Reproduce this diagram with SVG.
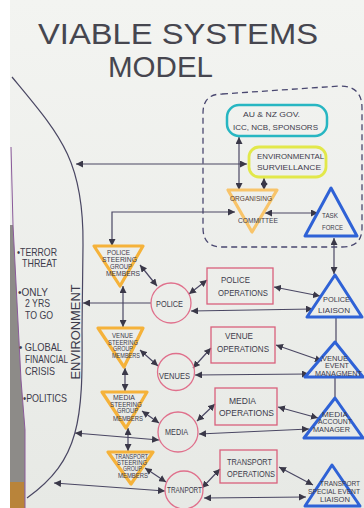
<svg xmlns="http://www.w3.org/2000/svg" width="364" height="508" viewBox="0 0 364 508">
<defs>
<linearGradient id="paper" x1="0" y1="0" x2="0" y2="1">
<stop offset="0" stop-color="#f3f4f1"/>
<stop offset="1" stop-color="#e7e9e5"/>
</linearGradient>
<marker id="ah" viewBox="0 0 7 7" refX="7" refY="3.5" markerWidth="7" markerHeight="7" markerUnits="userSpaceOnUse" orient="auto-start-reverse">
<path d="M0,0 L7,3.5 L0,7 z" fill="#3a3848"/>
</marker>
<style>
.tx{font-family:"Liberation Sans",Arial,sans-serif;fill:#3d3b4b;}
.title{font-size:30px;fill:#46464f;}
.s7{font-size:7px;}
.s8{font-size:8px;}
.s9{font-size:9px;}
.env{font-size:10.5px;}
.ln{fill:none;stroke:#4a4763;stroke-width:1.2;}
.da{marker-start:url(#ah);marker-end:url(#ah);}
.ea{marker-end:url(#ah);}
.orng{fill:none;stroke:#f5b23a;stroke-width:3.2;stroke-linejoin:round;}
.blue{fill:none;stroke:#2f62d6;stroke-width:3;stroke-linejoin:round;}
.circ{fill:none;stroke:#e0708c;stroke-width:1.3;}
.ops{fill:none;stroke:#d9607c;stroke-width:1.3;}
</style>
</defs>
<rect x="0" y="0" width="364" height="508" fill="url(#paper)"/>
<rect x="0" y="0" width="10" height="508" fill="#ffffff"/>
<polygon points="10,225 13,225 21,380 25,430 25,508 10,508" fill="#8d8b88"/>
<polygon points="10,482 24,482 25,508 10,508" fill="#b9843a"/>
<path d="M11,147 L13,225 L21,380 L25,430 L25,508" fill="none" stroke="#8a5a9a" stroke-width="1"/>

<g id="title">
<text class="tx title" x="38" y="44" textLength="280" lengthAdjust="spacingAndGlyphs">VIABLE SYSTEMS</text>
<text class="tx title" x="108" y="77" textLength="105" lengthAdjust="spacingAndGlyphs">MODEL</text>
</g>

<g id="environment">
<path d="M12,77 C60,135 84,160 83,245 L82,330 C83,420 80,460 27,498" fill="none" stroke="#4a4763" stroke-width="1.2"/>
<text class="tx" font-size="12" transform="translate(80,332) rotate(-90)" text-anchor="middle" textLength="95" lengthAdjust="spacingAndGlyphs">ENVIRONMENT</text>
<text class="tx env" x="17" y="256" textLength="40" lengthAdjust="spacingAndGlyphs">•TERROR</text>
<text class="tx env" x="22" y="267" textLength="35" lengthAdjust="spacingAndGlyphs">THREAT</text>
<text class="tx env" x="18" y="296" textLength="30" lengthAdjust="spacingAndGlyphs">•ONLY</text>
<text class="tx env" x="25" y="307" textLength="25" lengthAdjust="spacingAndGlyphs">2 YRS</text>
<text class="tx env" x="25" y="319" textLength="28" lengthAdjust="spacingAndGlyphs">TO GO</text>
<text class="tx env" x="19" y="351" textLength="43" lengthAdjust="spacingAndGlyphs">• GLOBAL</text>
<text class="tx env" x="25" y="363" textLength="43" lengthAdjust="spacingAndGlyphs">FINANCIAL</text>
<text class="tx env" x="25" y="375" textLength="30" lengthAdjust="spacingAndGlyphs">CRISIS</text>
<text class="tx env" x="23" y="402" textLength="44" lengthAdjust="spacingAndGlyphs">•POLITICS</text>
</g>

<g id="system5-boundary">
<path d="M222,94 L340,86 Q362,86 362,108 L362,228 Q362,247 342,247 L222,247 Q203,247 203,228 L203,113 Q203,94 222,94 Z" fill="none" stroke="#4a4870" stroke-width="1.3" stroke-dasharray="6 4"/>
</g>

<g id="connectors">
<path class="ln da" d="M76,164 L247,164"/>
<path class="ln da" d="M112,246 L112,212 L235,212"/>
<path class="ln da" d="M239,137 L239,190"/>
<path class="ln da" d="M264,178 L264,190"/>
<path class="ln da" d="M265,213 L318,213"/>
<path class="ln da" d="M334,238 L334,274"/>
<path class="ln" d="M336,317 L336,342"/>
<path class="ln" d="M335,377 L335,398"/>
<path class="ln da" d="M123,286 L123,327"/>
<path class="ln da" d="M125,368 L125,391"/>
<path class="ln da" d="M128,428 L128,451"/>
<path class="ln da" d="M140,265 L157,286"/>
<path class="ln ea" d="M151,303 L83,303"/>
<path class="ln da" d="M189,294 L207,280"/>
<path class="ln da" d="M274,287 L320,296"/>
<path class="ln da" d="M191,311 L313,309"/>
<path class="ln da" d="M140,350 L158,366"/>
<path class="ln da" d="M193,368 L211,348"/>
<path class="ln da" d="M276,345 L322,361"/>
<path class="ln da" d="M195,375 L309,374"/>
<path class="ln da" d="M75,433 L159,440"/>
<path class="ln da" d="M142,411 L159,423"/>
<path class="ln da" d="M197,421 L215,404"/>
<path class="ln da" d="M278,407 L318,418"/>
<path class="ln da" d="M199,434 L309,429"/>
<path class="ln da" d="M54,483 L165,491"/>
<path class="ln da" d="M145,468 L166,482"/>
<path class="ln da" d="M202,488 L220,469"/>
<path class="ln da" d="M279,467 L313,485"/>
<path class="ln da" d="M204,498 L306,497"/>
</g>

<g id="au-nz-gov">
<rect x="227" y="105" width="100" height="31" rx="12" fill="none" stroke="#27b6c2" stroke-width="2.5"/>
<text class="tx s8" x="243" y="117" textLength="57" lengthAdjust="spacingAndGlyphs">AU &amp; NZ GOV.</text>
<text class="tx s8" x="233" y="130" textLength="85" lengthAdjust="spacingAndGlyphs">ICC, NCB, SPONSORS</text>
</g>

<g id="environmental-surveillance">
<rect x="249" y="147" width="77" height="30" rx="10" fill="none" stroke="#e2e84a" stroke-width="2.8"/>
<text class="tx s8" x="257" y="159" textLength="67" lengthAdjust="spacingAndGlyphs">ENVIRONMENTAL</text>
<text class="tx s8" x="257" y="170" textLength="64" lengthAdjust="spacingAndGlyphs">SURVIELLANCE</text>
</g>

<g id="organising-committee">
<polygon class="orng" points="228,190 277,190 252,232" style="stroke:#f8c46a"/>
<text class="tx" font-size="7.5" x="230" y="201" textLength="42" lengthAdjust="spacingAndGlyphs" style="fill:#5a4030">ORGANISING</text>
<text class="tx" font-size="6.5" x="238" y="223" textLength="40" lengthAdjust="spacingAndGlyphs">COMMITTEE</text>
</g>

<g id="task-force">
<polygon class="blue" points="331,188 305,236 357,236"/>
<text class="tx s7" x="322" y="218" textLength="16" lengthAdjust="spacingAndGlyphs">TASK</text>
<text class="tx s7" x="322" y="230" textLength="21" lengthAdjust="spacingAndGlyphs">FORCE</text>
</g>

<g id="police-steering">
<polygon class="orng" points="94,246 143,246 120,286"/>
<text class="tx s7" x="107" y="255" textLength="23" lengthAdjust="spacingAndGlyphs">POLICE</text>
<text class="tx s7" x="102" y="262" textLength="35" lengthAdjust="spacingAndGlyphs">STEERING</text>
<text class="tx s7" x="110" y="269" textLength="22" lengthAdjust="spacingAndGlyphs">GROUP</text>
<text class="tx s7" x="106" y="276" textLength="34" lengthAdjust="spacingAndGlyphs">MEMBERS</text>
</g>

<g id="venue-steering">
<polygon class="orng" points="98,328 143,328 124,367"/>
<text class="tx s7" x="112" y="338" textLength="21" lengthAdjust="spacingAndGlyphs">VENUE</text>
<text class="tx s7" x="108" y="345" textLength="30" lengthAdjust="spacingAndGlyphs">STEERING</text>
<text class="tx s7" x="113" y="351" textLength="20" lengthAdjust="spacingAndGlyphs">GROUP</text>
<text class="tx s7" x="112" y="358" textLength="28" lengthAdjust="spacingAndGlyphs">MEMBERS</text>
</g>

<g id="media-steering">
<polygon class="orng" points="102,392 147,392 126,428"/>
<text class="tx s7" x="113" y="400" textLength="22" lengthAdjust="spacingAndGlyphs">MEDIA</text>
<text class="tx s7" x="110" y="407" textLength="32" lengthAdjust="spacingAndGlyphs">STEERING</text>
<text class="tx s7" x="117" y="413" textLength="21" lengthAdjust="spacingAndGlyphs">GROUP</text>
<text class="tx s7" x="113" y="421" textLength="30" lengthAdjust="spacingAndGlyphs">MEMBERS</text>
</g>

<g id="transport-steering">
<polygon class="orng" points="108,452 153,452 131,484"/>
<text class="tx s7" x="115" y="459" textLength="33" lengthAdjust="spacingAndGlyphs">TRANSPORT</text>
<text class="tx s7" x="117" y="465" textLength="30" lengthAdjust="spacingAndGlyphs">STEERING</text>
<text class="tx s7" x="123" y="471" textLength="19" lengthAdjust="spacingAndGlyphs">GROUP</text>
<text class="tx s7" x="118" y="478" textLength="30" lengthAdjust="spacingAndGlyphs">MEMBERS</text>
</g>

<g id="police">
<circle class="circ" cx="171" cy="303" r="20"/>
<text class="tx s9" x="156" y="307" textLength="27" lengthAdjust="spacingAndGlyphs">POLICE</text>
</g>
<g id="venues">
<circle class="circ" cx="176" cy="372" r="18.5"/>
<text class="tx s9" x="159" y="379" textLength="31" lengthAdjust="spacingAndGlyphs">VENUES</text>
</g>
<g id="media">
<circle class="circ" cx="178" cy="432" r="20"/>
<text class="tx s9" x="165" y="435" textLength="23" lengthAdjust="spacingAndGlyphs">MEDIA</text>
</g>
<g id="transport">
<circle class="circ" cx="184" cy="490" r="19"/>
<text class="tx s9" x="167" y="493" textLength="35" lengthAdjust="spacingAndGlyphs">TRANPORT</text>
</g>

<g id="police-operations">
<rect class="ops" x="207" y="268" width="66" height="36"/>
<text class="tx s9" x="221" y="283" textLength="29" lengthAdjust="spacingAndGlyphs">POLICE</text>
<text class="tx s9" x="218" y="296" textLength="50" lengthAdjust="spacingAndGlyphs">OPERATIONS</text>
</g>
<g id="venue-operations">
<rect class="ops" x="211" y="327" width="64" height="36"/>
<text class="tx s9" x="225" y="339" textLength="28" lengthAdjust="spacingAndGlyphs">VENUE</text>
<text class="tx s9" x="217" y="352" textLength="52" lengthAdjust="spacingAndGlyphs">OPERATIONS</text>
</g>
<g id="media-operations">
<rect class="ops" x="215" y="388" width="62" height="37"/>
<text class="tx s9" x="229" y="404" textLength="27" lengthAdjust="spacingAndGlyphs">MEDIA</text>
<text class="tx s9" x="219" y="416" textLength="55" lengthAdjust="spacingAndGlyphs">OPERATIONS</text>
</g>
<g id="transport-operations">
<rect class="ops" x="220" y="450" width="57" height="33"/>
<text class="tx s9" x="227" y="465" textLength="45" lengthAdjust="spacingAndGlyphs">TRANSPORT</text>
<text class="tx s9" x="227" y="477" textLength="48" lengthAdjust="spacingAndGlyphs">OPERATIONS</text>
</g>

<g id="police-liaison">
<polygon class="blue" points="335,275 307,317 362,317"/>
<text class="tx" font-size="7.5" x="323" y="302" textLength="27" lengthAdjust="spacingAndGlyphs">POLICE</text>
<text class="tx" font-size="7.5" x="318" y="313" textLength="32" lengthAdjust="spacingAndGlyphs">LIAISON</text>
</g>
<g id="venue-event-management">
<polygon class="blue" points="335,342 305,377 363,377"/>
<text class="tx s7" x="322" y="361" textLength="26" lengthAdjust="spacingAndGlyphs">VENUE</text>
<text class="tx s7" x="325" y="368" textLength="24" lengthAdjust="spacingAndGlyphs">EVENT</text>
<text class="tx s7" x="315" y="376" textLength="47" lengthAdjust="spacingAndGlyphs">MANAGMENT</text>
</g>
<g id="media-account-manager">
<polygon class="blue" points="335,398 304,438 363,438"/>
<text class="tx s7" x="322" y="417" textLength="26" lengthAdjust="spacingAndGlyphs">MEDIA</text>
<text class="tx s7" x="318" y="424" textLength="34" lengthAdjust="spacingAndGlyphs">ACCOUNT</text>
<text class="tx s7" x="313" y="432" textLength="37" lengthAdjust="spacingAndGlyphs">MANAGER</text>
</g>
<g id="transport-special-event-liaison">
<polygon class="blue" points="332,465 305,506 360,506"/>
<text class="tx s7" x="320" y="486" textLength="40" lengthAdjust="spacingAndGlyphs">TRANSPORT</text>
<text class="tx s7" x="308" y="494" textLength="52" lengthAdjust="spacingAndGlyphs">SPECIAL EVENT</text>
<text class="tx s7" x="320" y="502" textLength="30" lengthAdjust="spacingAndGlyphs">LIAISON</text>
</g>
</svg>
